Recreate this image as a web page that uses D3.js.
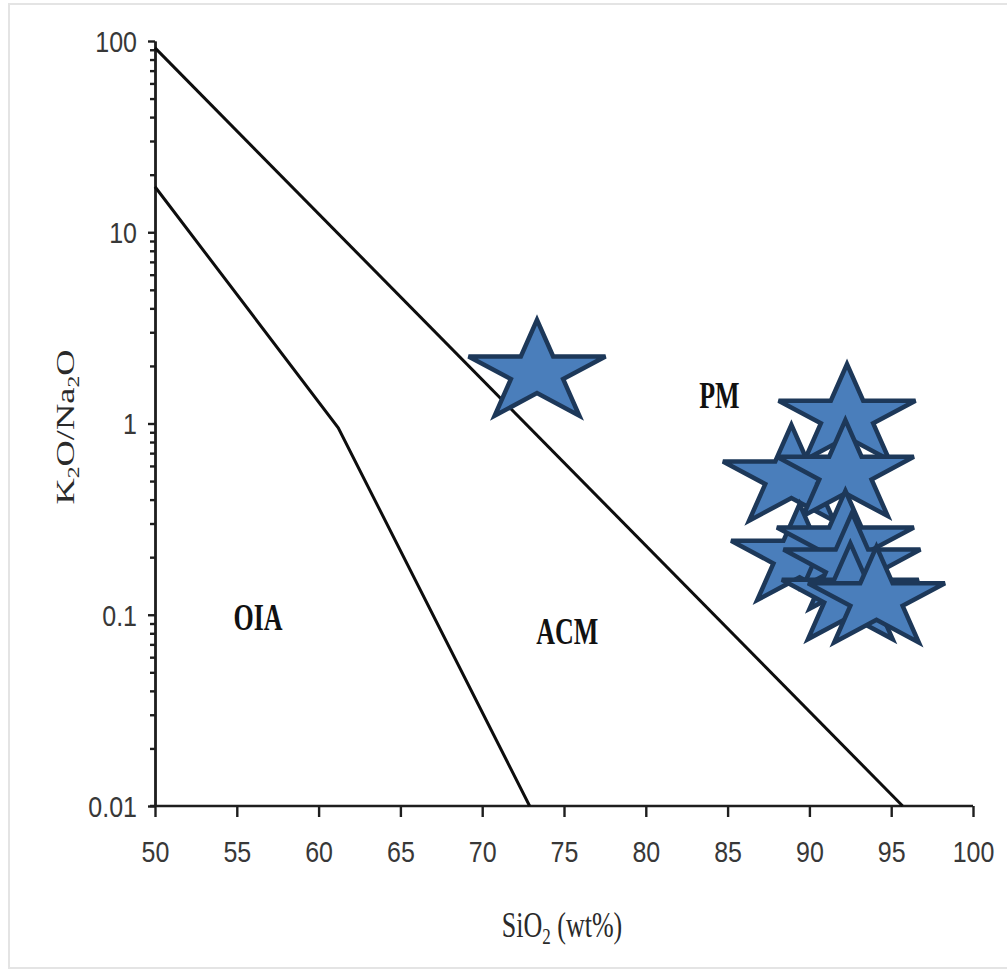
<!DOCTYPE html>
<head>
    <meta charset="utf-8">
    <style>
      body {
          margin: 0;
          background: #fff;
      }

      .boundary {
        fill: none;
        stroke: #0d0d0d;
        stroke-width: 3px;
      }

      .axis path, .axis line {
        stroke: #1e1e1e;
        stroke-width: 2.4px;
      }

      .axis text {
        font-family: 'Liberation Sans Narrow', 'Liberation Sans', sans-serif;
        font-size: 25px;
        fill: #383838;
      }

      .star {
        fill: #4a7ebb;
        stroke: #1d3859;
        stroke-width: 4.5px;
        stroke-linejoin: miter;
      }

      .field {
        font-family: 'Liberation Serif', serif;
        font-weight: bold;
        font-size: 26px;
        fill: #111;
      }

      .title {
        font-family: 'Liberation Serif', serif;
        font-size: 26px;
        fill: #2a2a2a;
      }
  </style>
</head>
<body>
<svg id="chart" width="1007" height="971"></svg>
<script src="https://cdn.jsdelivr.net/npm/d3@7"></script>
<script>
  // axis ticks
  const xTicks = [50, 55, 60, 65, 70, 75, 80, 85, 90, 95, 100];
  const yTicks = [0.01, 0.1, 1, 10, 100];
  const yTickLabels = ["0.01", "0.1", "1", "10", "100"];

  // field boundaries (SiO2, K2O/Na2O)
  const pmLineX = [50, 95.7];
  const pmLineY = [92, 0.01];
  const oiaLineX = [50, 61.2, 72.9];
  const oiaLineY = [17.3, 0.95, 0.01];

  // field names and where they sit
  const fieldNames = ["OIA", "ACM", "PM"];
  const fieldX = [56.3, 75.2, 84.5];
  const fieldY = [0.097, 0.082, 1.41];

  // samples
  const sampleSiO2 = [73.35, 92.3, 88.9, 92.2, 89.4, 92.2, 92.6, 92.5, 94.1];
  const sampleRatio = [1.84, 1.08, 0.52, 0.55, 0.2, 0.235, 0.18, 0.125, 0.12];

  const svg = d3.select("#chart");

  // faint frame around the picture
  svg.append("rect")
      .attr("x", 9).attr("y", 4)
      .attr("width", 1010).attr("height", 964)
      .attr("fill", "none")
      .attr("stroke", "#e4e4e4")
      .attr("stroke-width", 2);

  const x = d3.scaleLinear().domain([50, 100]).range([155, 973]);
  const y = d3.scaleLog().domain([0.01, 100]).range([806, 41]);

  // minor log ticks on y
  const minorTicks = [];
  yTicks.slice(0, -1).forEach(function(d) {
    for (let k = 2; k <= 9; k++) minorTicks.push(d * k);
  });

  svg.append("g")
      .attr("class", "axis")
      .attr("transform", "translate(155,0)")
      .call(d3.axisLeft(y).tickValues(minorTicks).tickSize(5).tickSizeOuter(0).tickFormat(""));

  const gy = svg.append("g")
      .attr("class", "axis")
      .attr("transform", "translate(155,0)")
      .call(d3.axisLeft(y).tickValues(yTicks).tickSize(7).tickSizeOuter(0)
        .tickFormat(function(d, i) { return yTickLabels[i]; }));
  gy.selectAll("text")
      .attr("x", -18)
      .attr("dy", null)
      .attr("dominant-baseline", "central")
      .attr("transform", "scale(1,1.2)");

  const gx = svg.append("g")
      .attr("class", "axis")
      .attr("transform", "translate(0,806)")
      .call(d3.axisBottom(x).tickValues(xTicks).tickSize(11).tickSizeOuter(0));
  gx.select(".domain").attr("d", "M" + (x(50) - 5) + ",0H" + x(100));
  gx.selectAll("text")
      .attr("y", null)
      .attr("dy", null)
      .attr("dominant-baseline", "central")
      .attr("transform", "translate(0,46) scale(1,1.2)");

  // boundary lines
  const line = d3.line()
      .x(function(d) { return x(d[0]); })
      .y(function(d) { return y(d[1]); });

  svg.append("path")
      .datum(d3.zip(pmLineX, pmLineY))
      .attr("class", "boundary")
      .attr("d", line);

  svg.append("path")
      .datum(d3.zip(oiaLineX, oiaLineY))
      .attr("class", "boundary")
      .attr("d", line);

  // field labels
  svg.selectAll("text.field")
    .data(fieldNames)
    .enter().append("text")
      .attr("class", "field")
      .attr("text-anchor", "middle")
      .attr("dominant-baseline", "central")
      .attr("transform", function(d, i) {
        return "translate(" + x(fieldX[i]) + "," + y(fieldY[i]) + ") scale(1,1.45)";
      })
      .text(function(d) { return d; });

  // star markers
  function starPath(rx, ry) {
    const pts = [];
    for (let k = 0; k < 10; k++) {
      const a = -Math.PI / 2 + k * Math.PI / 5;
      const r = k % 2 ? 0.382 : 1;
      pts.push([Math.cos(a) * r * rx, Math.sin(a) * r * ry]);
    }
    return d3.line()(pts) + "Z";
  }
  const star = starPath(72, 53);

  svg.selectAll("path.star")
    .data(d3.zip(sampleSiO2, sampleRatio))
    .enter().append("path")
      .attr("class", "star")
      .attr("d", star)
      .attr("transform", function(d) { return "translate(" + x(d[0]) + "," + y(d[1]) + ")"; });

  // axis titles
  const xt = svg.append("text")
      .attr("class", "title")
      .attr("text-anchor", "middle")
      .attr("transform", "translate(562,937) scale(1,1.4)");
  xt.append("tspan").text("SiO");
  xt.append("tspan").attr("font-size", "17px").attr("dy", 5).text("2");
  xt.append("tspan").attr("dy", -5).text(" (wt%)");

  const yt = svg.append("text")
      .attr("class", "title")
      .attr("text-anchor", "middle")
      .attr("transform", "translate(74,427) rotate(-90) scale(1.4,1)");
  yt.append("tspan").text("K");
  yt.append("tspan").attr("font-size", "17px").attr("dy", 5).text("2");
  yt.append("tspan").attr("dy", -5).text("O/Na");
  yt.append("tspan").attr("font-size", "17px").attr("dy", 5).text("2");
  yt.append("tspan").attr("dy", -5).text("O");
</script>
</body>
